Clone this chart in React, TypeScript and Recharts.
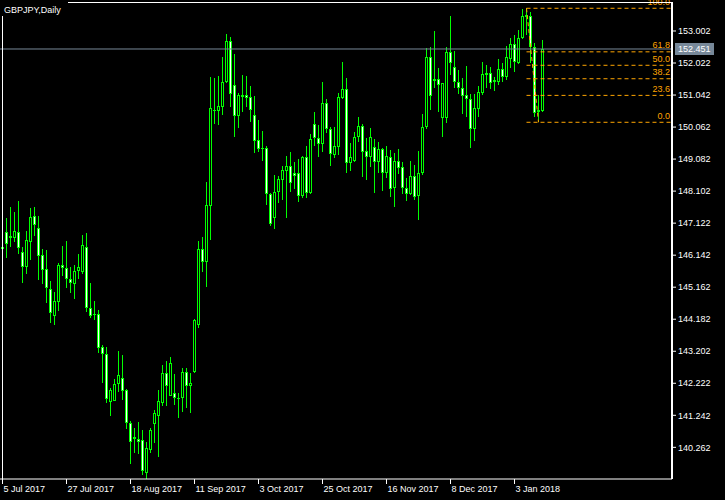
import { ComposedChart, Bar, XAxis, YAxis, ReferenceLine } from 'recharts';

const FONT = '"Liberation Sans", Arial, sans-serif';
const LIME = '#00ff00';
const FIB = '#ffa500';
const BID_COLOR = '#778899';

// daily OHLC, 5 Jul 2017 .. 12 Jan 2018
const openP = [
  146.393, 146.843, 146.72, 146.659, 146.843, 146.249, 145.772, 146.537, 147.332, 146.965,
  146.139, 145.71, 145.117, 144.272, 144.719, 145.833, 145.741, 145.404, 145.251, 145.649,
  145.619, 146.384, 144.517, 144.343, 144.333, 143.323, 143.109, 141.659, 141.69, 142.191,
  142.375, 142.017, 140.998, 140.57, 140.518, 140.478, 139.486, 140.181, 140.977, 141.231,
  141.61, 142.528, 141.84, 141.916, 141.781, 141.763, 142.559, 142.149, 142.577, 144.006,
  146.332, 145.925, 147.657, 150.585, 150.564, 150.686, 151.433, 152.696, 151.35, 150.411,
  151.044, 151.044, 150.992, 150.432, 149.667, 149.413, 149.413, 148.005, 147.289, 148.067,
  148.443, 148.728, 148.871, 148.648, 148.648, 147.963, 149.138, 148.054, 150.157, 149.719,
  149.545, 150.79, 149.994, 149.208, 149.462, 150.943, 151.218, 148.954, 149.024, 149.75,
  150.095, 149.321, 149.156, 149.444, 149.003, 149.382, 148.648, 149.156, 148.189, 149.034,
  148.832, 148.189, 148.015, 148.566, 147.953, 148.648, 150.074, 152.198, 151.524, 151.524,
  150.331, 150.331, 152.369, 151.91, 151.451, 151.249, 151.044, 150.912, 150.004, 150.616,
  151.114, 151.726, 151.708, 151.503, 151.451, 151.84, 151.604, 152.136, 152.605, 152.032,
  152.779, 153.492, 153.461, 152.522, 150.585, 150.564,
];
const highP = [
  146.454, 147.271, 147.608, 147.455, 147.8, 146.402, 146.882, 147.577, 147.608, 147.341,
  146.332, 146.301, 145.352, 145.025, 145.894, 146.423, 146.576, 145.781, 145.833, 146.169,
  146.76, 146.812, 145.282, 144.74, 144.465, 143.394, 143.323, 142.069, 142.354, 143.21,
  143.088, 142.038, 141.078, 140.863, 141.038, 140.793, 140.426, 140.845, 141.405, 142.017,
  142.782, 142.904, 143.018, 142.507, 141.934, 142.699, 142.699, 142.528, 144.19, 146.576,
  146.699, 148.391, 151.604, 151.573, 151.635, 152.216, 152.911, 152.81, 152.299, 151.096,
  151.656, 151.625, 151.319, 151.013, 150.279, 149.942, 149.483, 148.054, 148.596, 148.575,
  148.881, 149.177, 149.3, 148.985, 149.086, 149.187, 149.483, 149.841, 150.515, 150.126,
  151.433, 150.912, 150.056, 150.056, 151.096, 152.054, 151.555, 149.566, 149.921, 150.38,
  150.157, 149.719, 150.025, 149.698, 149.597, 149.413, 149.483, 149.361, 149.26, 149.392,
  148.985, 148.495, 149.024, 148.902, 149.33, 150.453, 152.473, 152.504, 153.002, 151.861,
  151.41, 152.504, 153.461, 152.39, 151.809, 151.555, 151.931, 151.065, 151.065, 151.319,
  152.063, 151.962, 151.91, 151.586, 152.146, 152.032, 152.543, 152.797, 152.88, 153.033,
  153.666, 153.697, 153.593, 152.626, 151.044, 152.727,
];
const lowP = [
  146.218, 146.047, 146.402, 146.555, 146.169, 145.282, 145.557, 145.995, 146.739, 145.383,
  145.251, 144.688, 144.058, 144.006, 144.434, 145.505, 145.129, 144.994, 144.811, 145.404,
  145.557, 144.395, 144.229, 144.159, 143.158, 142.24, 141.628, 141.221, 141.68, 141.965,
  141.711, 140.824, 139.753, 140.098, 140.049, 139.416, 139.294, 140.098, 140.404, 139.976,
  141.527, 141.527, 141.833, 141.558, 141.169, 141.353, 141.475, 141.322, 142.528, 143.905,
  145.637, 145.178, 146.607, 150.157, 150.126, 150.432, 151.42, 150.668, 149.768, 150.025,
  150.515, 150.668, 150.227, 149.278, 149.309, 149.024, 147.678, 147.035, 146.944, 147.748,
  147.831, 147.289, 148.085, 148.168, 147.779, 147.901, 147.901, 148.005, 149.493, 149.156,
  149.309, 149.872, 148.881, 149.107, 149.208, 150.912, 148.666, 148.728, 149.003, 149.615,
  148.544, 148.443, 148.85, 148.054, 148.648, 148.106, 148.513, 147.932, 147.626, 148.627,
  148.015, 147.81, 147.984, 147.831, 147.219, 148.596, 149.994, 150.585, 151.249, 150.533,
  149.768, 150.178, 151.656, 151.249, 151.075, 150.463, 150.38, 149.431, 149.646, 150.38,
  151.044, 151.249, 151.218, 151.176, 151.35, 151.451, 151.503, 151.861, 151.757, 151.983,
  152.748, 152.88, 152.014, 150.38, 150.208, 150.533,
];
const closeP = [
  146.332, 146.475, 146.659, 146.873, 146.371, 145.772, 146.598, 147.302, 147.057, 146.108,
  145.68, 145.129, 144.364, 144.75, 145.833, 145.741, 145.404, 145.3, 145.658, 145.772,
  146.445, 144.517, 144.272, 144.303, 143.311, 143.109, 141.732, 142.017, 142.191, 142.467,
  141.996, 140.998, 140.435, 140.527, 140.426, 139.548, 140.233, 140.793, 141.304, 141.68,
  142.528, 142.149, 142.834, 141.763, 141.732, 142.559, 142.149, 142.222, 144.159, 146.332,
  145.925, 147.678, 150.637, 150.576, 150.707, 151.433, 152.696, 151.084, 150.411, 151.044,
  150.992, 150.961, 150.585, 149.646, 149.382, 149.382, 148.005, 147.087, 148.067, 148.474,
  148.749, 148.871, 148.342, 148.566, 147.963, 149.138, 148.054, 149.688, 149.719, 149.545,
  150.79, 149.994, 149.229, 149.483, 150.974, 151.218, 148.954, 149.138, 149.75, 150.095,
  149.309, 149.156, 149.75, 149.003, 149.382, 148.648, 149.177, 148.158, 149.034, 148.819,
  148.189, 148.005, 148.575, 147.932, 148.666, 150.074, 152.198, 151.023, 151.472, 151.35,
  151.402, 152.369, 152.014, 151.451, 151.249, 151.023, 150.912, 149.994, 150.637, 151.127,
  151.687, 151.656, 151.402, 151.451, 151.84, 151.604, 152.198, 152.605, 152.063, 152.779,
  153.461, 153.44, 152.522, 150.502, 150.533, 152.451,
];

const tickBars = [0, 16, 32, 48, 64, 80, 96, 112, 128];
const tickDates = [
  '5 Jul 2017', '27 Jul 2017', '18 Aug 2017', '11 Sep 2017', '3 Oct 2017',
  '25 Oct 2017', '16 Nov 2017', '8 Dec 2017', '3 Jan 2018',
];
const priceTicks = [
  140.262, 141.242, 142.222, 143.202, 144.182, 145.162, 146.142,
  147.122, 148.102, 149.082, 150.062, 151.042, 152.022, 153.002,
];
const bidPrice = 152.451;

// fibonacci retracement drawn from the high bar to the low bar
const fibHighBar = 131;
const fibLowBar = 134;
const fibHigh = 153.697;
const fibLow = 150.208;
const fibLevels = [0, 23.6, 38.2, 50, 61.8, 100];

const bars = openP.map((o, i) => ({
  idx: i,
  open: o,
  high: highP[i],
  low: lowP[i],
  close: closeP[i],
}));

const Candle = (props: any) => {
  const { x, y, width, height, payload } = props;
  const { open, high, low, close } = payload;
  const cx = x + width / 2;
  const k = height / (high - low || 1);
  const py = (p: number) => y + (high - p) * k;
  const t = Math.round(Math.min(py(open), py(close)));
  const b = Math.round(Math.max(py(open), py(close)));
  const h = Math.max(b - t, 1);
  const bull = close >= open;
  return (
    <g shapeRendering="crispEdges">
      <line x1={cx} x2={cx} y1={py(high)} y2={py(low)} stroke={LIME} strokeWidth={1} />
      <rect x={cx - 1.5} y={t} width={3} height={h} fill={LIME} />
      {h > 2 && (
        <rect x={cx - 0.5} y={t + 1} width={1} height={h - 2} fill={bull ? '#000' : '#fff'} />
      )}
    </g>
  );
};

const DateTick = (props: any) => {
  const { x, y, payload } = props;
  const label = tickDates[tickBars.indexOf(payload.value)];
  return (
    <text x={x + 1} y={y + 8} fill="#fff" fontSize={9} fontFamily={FONT} textAnchor="start">
      {label}
    </text>
  );
};

const BidLabel = (props: any) => {
  const vb = props.viewBox;
  const lx = vb.x + vb.width + 3;
  return (
    <g>
      <rect x={lx} y={vb.y - 6} width={39} height={12} fill={BID_COLOR} />
      <text x={lx + 3} y={vb.y + 3.5} fill="#fff" fontSize={9} fontFamily={FONT}>
        {bidPrice.toFixed(3)}
      </text>
    </g>
  );
};

const fibLabel = (text: string) => (props: any) => {
  const vb = props.viewBox;
  return (
    <text x={vb.x + vb.width - 2} y={vb.y - 3.5} fill={FIB} fontSize={9} fontFamily={FONT} textAnchor="end">
      {text}
    </text>
  );
};

export default function App() {
  return (
    <div style={{ position: 'absolute', left: 0, top: 0, width: 725, height: 500, background: '#000' }}>
      <ComposedChart width={725} height={500} data={bars} margin={{ top: 2, right: 0, bottom: 0, left: 0 }}>
        <XAxis
          type="number"
          dataKey="idx"
          domain={[-0.625, 167.375]}
          allowDataOverflow
          ticks={tickBars}
          interval={0}
          height={21}
          axisLine={{ stroke: '#fff' }}
          tickLine={{ stroke: '#fff' }}
          tickSize={5}
          tickMargin={0}
          tick={<DateTick />}
        />
        <YAxis
          orientation="right"
          type="number"
          domain={[139.293, 153.889]}
          allowDataOverflow
          ticks={priceTicks}
          interval={0}
          width={53}
          axisLine={{ stroke: '#fff', strokeWidth: 2 }}
          tickLine={{ stroke: '#fff' }}
          tickSize={4}
          tickMargin={2}
          tick={{ fill: '#fff', fontSize: 9, fontFamily: FONT }}
          tickFormatter={(v: number) => v.toFixed(3)}
        />
        <ReferenceLine y={bidPrice} stroke={BID_COLOR} label={BidLabel} />
        <Bar
          dataKey={(d: any) => [d.low, d.high]}
          barSize={3}
          shape={Candle}
          isAnimationActive={false}
        />
        {fibLevels.map((lvl) => {
          const price = fibLow + ((fibHigh - fibLow) * lvl) / 100;
          return (
            <ReferenceLine
              key={lvl}
              segment={[
                { x: fibHighBar, y: price },
                { x: 167.375, y: price },
              ]}
              stroke={FIB}
              strokeDasharray="4 3"
              label={fibLabel(lvl.toFixed(1))}
            />
          );
        })}
        <ReferenceLine
          segment={[
            { x: fibHighBar, y: fibHigh },
            { x: fibLowBar, y: fibLow },
          ]}
          stroke={FIB}
          strokeDasharray="4 3"
        />
      </ComposedChart>
      <svg
        width={725}
        height={500}
        style={{ position: 'absolute', left: 0, top: 0, pointerEvents: 'none' }}
      >
        <line x1={2} y1={2.5} x2={672} y2={2.5} stroke="#fff" />
        <line x1={2.5} y1={2} x2={2.5} y2={479} stroke="#fff" />
        <rect x={0} y={0} width={68} height={16} fill="#000" />
        <text x={4} y={12.5} fill="#fff" fontSize={9} fontFamily={FONT}>
          GBPJPY,Daily
        </text>
      </svg>
    </div>
  );
}
